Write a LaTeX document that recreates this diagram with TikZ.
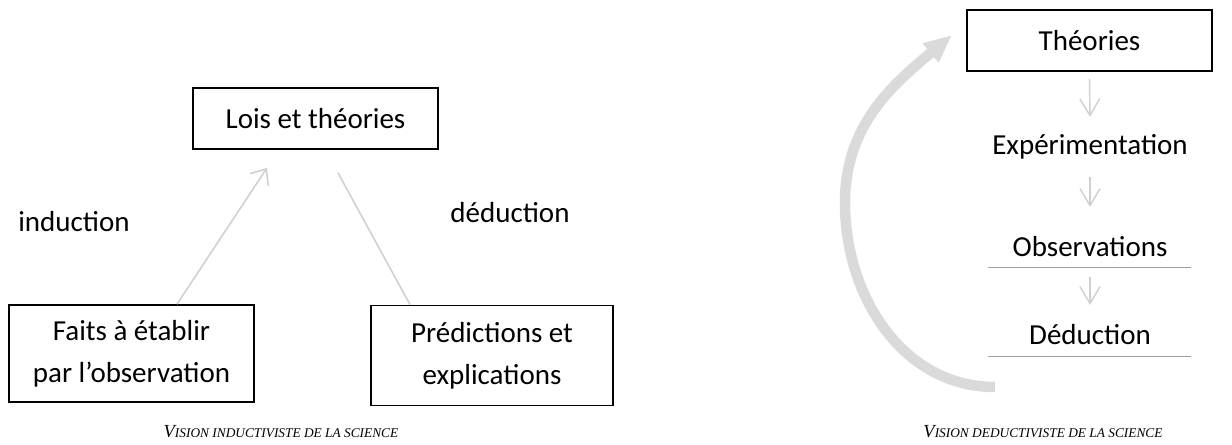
\documentclass[tikz,border=0pt]{standalone}
\usepackage{fontspec}
\setmainfont{Carlito}
\newfontfamily\captfont{Liberation Serif}
\usetikzlibrary{arrows.meta,positioning,calc}
\definecolor{arrowgray}{HTML}{D0D0D0}
\definecolor{arcgray}{HTML}{DADADA}
\definecolor{rulegray}{HTML}{A0A0A0}
\newcommand{\captsc}[2]{{\captfont\itshape\fontsize{10.5}{12}\selectfont #1\fontsize{7.6}{10}\selectfont #2}}

\begin{document}
\begin{tikzpicture}[
    box/.style={draw, line width=1pt, minimum width=4.9cm, align=center, inner sep=2pt},
    lbl/.style={inner sep=0pt, align=center},
    thin arrow/.style={draw=arrowgray, line width=0.9pt, -{Straight Barb[length=2.6mm,width=4.4mm]}},
    step arrow/.style={draw=arrowgray, line width=0.8pt, -{Straight Barb[length=3.4mm,width=4mm]}},
    font=\fontsize{16.5}{24}\selectfont
]
\useasboundingbox (0,0) rectangle (24.64,-8.90);

% Left: inductivist view
\node[box, minimum height=1.22cm] (lois) at (6.31,-2.37) {Lois et théories};
\node[box, minimum height=1.94cm] (faits) at (2.63,-7.07) {Faits à établir\\par l’observation};
\node[box, minimum width=4.84cm, minimum height=2.0cm] (pred) at (9.84,-7.11) {Prédictions et\\explications};
\node[lbl] (induc) at (1.48,-4.44) {induction};
\node[lbl] (deduc) at (10.20,-4.26) {déduction};
\node[lbl] (captl) at (5.62,-8.64) {\captsc{V}{ISION INDUCTIVISTE DE LA SCIENCE}};

\draw[thin arrow] ([xshift=0.91cm]faits.north) -- ([xshift=-0.97cm,yshift=-0.36cm]lois.south);
\draw[draw=arrowgray, line width=0.9pt] ([xshift=0.45cm,yshift=-0.46cm]lois.south) -- ([xshift=-1.64cm]pred.north);

% Right: deductivist view
\node[box, minimum height=1.22cm] (theo) at (21.79,-0.81) {Théories};
\node[lbl] (expe) at (21.80,-2.94) {Expérimentation};
\node[lbl] (obs) at (21.80,-4.94) {Observations};
\node[lbl] (ded) at (21.80,-6.70) {Déduction};
\node[lbl] (captr) at (20.86,-8.64) {\captsc{V}{ISION DEDUCTIVISTE DE LA SCIENCE}};

\draw[step arrow] ([yshift=-0.14cm]theo.south) -- ([yshift=0.6cm]expe.center);
\draw[step arrow] ([yshift=-0.6cm]expe.center) -- ([yshift=0.8cm]obs.center);
\draw[step arrow] ([yshift=-0.6cm]obs.center) -- ([yshift=0.6cm]ded.center);

\draw[rulegray, line width=0.5pt] ([xshift=-2.04cm,yshift=-0.40cm]obs.center) -- ([xshift=2.02cm,yshift=-0.40cm]obs.center);
\draw[rulegray, line width=0.5pt] ([xshift=-2.04cm,yshift=-0.42cm]ded.center) -- ([xshift=2.02cm,yshift=-0.42cm]ded.center);

% Feedback arc
\coordinate (arcbot) at (19.90,-7.74);
\coordinate (arcleft) at (16.90,-4.06);
\coordinate (arctip) at (19.04,-0.70);
\draw[arcgray, line width=0.21cm, -{Triangle[length=0.56cm,width=0.46cm]}]
  (arcbot) to[out=180,in=-90] (arcleft) to[out=90,in=-140] (arctip);

\end{tikzpicture}
\end{document}
